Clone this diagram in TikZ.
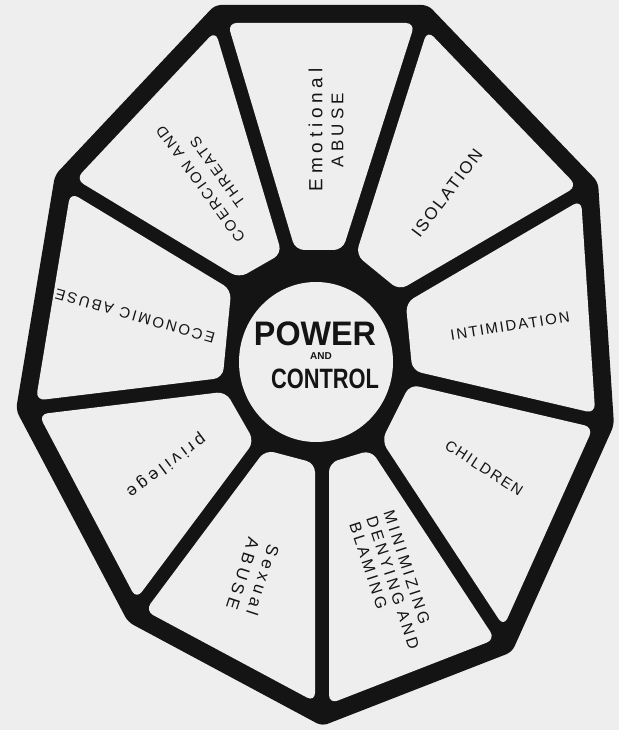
\documentclass[tikz,border=0pt]{standalone}
\usepackage{fontspec}
\usetikzlibrary{calc}
\setmainfont{Liberation Sans}
\definecolor{paper}{RGB}{238,238,238}
\definecolor{ink}{RGB}{20,20,20}
\newcommand{\pt}[1]{\pgfpointanchor{#1}{center}}
\newcommand{\crosspt}[5]{\pgfcoordinate{#1}{\pgfpointintersectionoflines{\pt{#2}}{\pt{#3}}{\pt{#4}}{\pt{#5}}}}
\newcommand{\wsp}{\hspace{7pt}}
\begin{document}
\begin{tikzpicture}[x=1pt,y=-1pt,
  lbl/.style n args={2}{font=\fontsize{#1}{21}\selectfont\addfontfeature{LetterSpace=#2}, align=center, inner sep=0pt, text=ink},
  sector/.style={fill=paper, rounded corners=9pt}]
\fill[paper] (0,0) rectangle (619,730);
\useasboundingbox (0,0) rectangle (619,730);
% outer vertices (outer edge of rim)
\coordinate (V1) at (215,5);
\coordinate (V2) at (428,5);
\coordinate (V3) at (598,182);
\coordinate (V4) at (614,425);
\coordinate (V5) at (512,652);
\coordinate (V6) at (322,726);
\coordinate (V7) at (128,622);
\coordinate (V8) at (16,410);
\coordinate (V9) at (55,175);
% hub vertices (where the spokes meet the hub)
\coordinate (H1) at (288,250);
\coordinate (H2) at (350,250);
\coordinate (H3) at (405,295);
\coordinate (H4) at (413,378);
\coordinate (H5) at (378,448);
\coordinate (H6) at (322,465);
\coordinate (H7) at (258,448);
\coordinate (H8) at (222,385);
\coordinate (H9) at (232,282);
% black body
\fill[ink, rounded corners=6pt] (V1)--(V2)--(V3)--(V4)--(V5)--(V6)--(V7)--(V8)--(V9)--cycle;
% white sectors, inset from rim (18) and spokes (7)
\foreach \i/\j in {1/2,2/3,3/4,4/5,5/6,6/7,7/8,8/9,9/1}{
  \coordinate (ra\i) at ($(V\i)!18pt!-90:(V\j)$);
  \coordinate (rb\i) at ($(V\j)!18pt!90:(V\i)$);
  \coordinate (sa\i) at ($(V\j)!7pt!-90:(H\j)$);
  \coordinate (sb\i) at ($(H\j)!7pt!90:(V\j)$);
  \coordinate (ta\i) at ($(H\i)!7pt!-90:(V\i)$);
  \coordinate (tb\i) at ($(V\i)!7pt!90:(H\i)$);
  \crosspt{ca\i}{ra\i}{rb\i}{ta\i}{tb\i}
  \crosspt{cb\i}{ra\i}{rb\i}{sa\i}{sb\i}
  \crosspt{cc\i}{sa\i}{sb\i}{H\j}{H\i}
  \crosspt{cd\i}{H\j}{H\i}{ta\i}{tb\i}
  \fill[sector] (ca\i)--(cb\i)--(cc\i)--(cd\i)--cycle;
}
\fill[paper] (316,362) ellipse[x radius=77, y radius=80];
% centre text
\node[inner sep=0pt, text=ink, font=\fontsize{34}{34}\selectfont\bfseries, xscale=0.95] (power) at (315,334) {POWER};
\node[inner sep=0pt, text=ink, font=\fontsize{10}{10}\selectfont\bfseries] (and) at (321,356) {AND};
\node[inner sep=0pt, text=ink, font=\fontsize{28}{28}\selectfont\bfseries, xscale=0.78] (control) at (325,379) {CONTROL};
% sector labels
\node[lbl={19}{25}, rotate=90] (emo) at (326,130) {Emotional\\\fontsize{17}{21}\selectfont ABUSE};
\node[lbl={17}{12}, rotate=53] (iso) at (447,193) {ISOLATION};
\node[lbl={15}{12}, rotate=9] (inti) at (510,326) {INTIMIDATION};
\node[lbl={15}{12}, rotate=-33] (chi) at (484,468) {CHILDREN};
\node[lbl={16}{20}, rotate=-72, align=left] (mini) at (393,583) {MINIMIZING\\[-3pt]DENYING\wsp AND\\[-3pt]BLAMING};
\node[lbl={17}{24}, rotate=-108] (sex) at (253,577) {Sexual\\ABUSE};
\node[lbl={17}{23}, rotate=-143] (priv) at (166,465) {privilege};
\node[lbl={15}{15}, rotate=164] (eco) at (135,316) {ECONOMIC\wsp ABUSE};
\node[lbl={15}{15}, rotate=126] (coe) at (209,178) {COERCION\wsp AND\\THREATS};
\end{tikzpicture}
\end{document}
